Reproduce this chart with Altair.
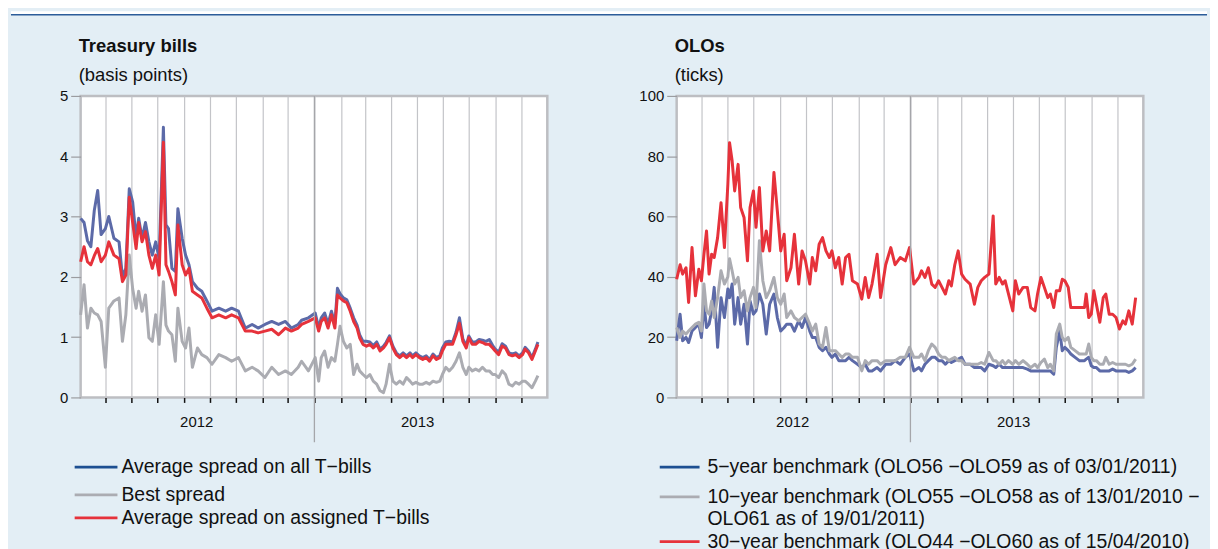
import altair as alt
import pandas as pd

FONT = "Liberation Sans"
BG = "#e3eef5"
BLUE = "#5c6aa8"
BLUE_KEY = "#1d4f91"
GREY = "#abacb2"
RED = "#e6323b"
TEXT = "#111111"

# ---------------- time axis ----------------
START = pd.Timestamp("2012-04-02")
DOMAIN = [alt.DateTime(year=2012, month=4, date=2), alt.DateTime(year=2013, month=10, date=1)]
MONTH_STARTS = [(2012, m) for m in range(5, 13)] + [(2013, m) for m in range(1, 10)]
YEAR_DIVIDER = "2013-01-01"
YEAR_LABELS = ["2012", "2013"]
YEAR_LABEL_DATES = ["2012-08-16", "2013-05-02"]

# ---------------- Treasury bills (basis points) ----------------
tb_days = [0, 4, 8, 12, 16, 20, 24, 29, 33, 39, 45, 49, 53, 57, 61, 65, 68, 72, 76, 80,
           84, 88, 92, 97, 100, 103, 107, 111, 114, 119, 123, 127, 131, 137, 142, 148, 154, 162, 170, 177,
           185, 193, 201, 208, 216, 224, 232, 240, 247, 255, 259, 267, 275, 279, 282, 286, 290, 294, 298, 301,
           304, 308, 312, 316, 320, 324, 327, 331, 335, 339, 343, 347, 351, 355, 358, 362, 366, 370, 374, 378,
           382, 386, 389, 393, 397, 401, 405, 409, 413, 417, 421, 424, 428, 432, 436, 440, 444, 448, 452, 455,
           459, 463, 467, 471, 475, 479, 483, 486, 490, 494, 498, 502, 506, 510, 514, 518, 521, 525, 529, 533,
           536]
tb_all = [2.97, 2.90, 2.60, 2.50, 3.10, 3.43, 2.70, 2.80, 3.00, 2.64, 2.58, 2.00, 2.14, 3.46, 3.24, 2.64, 2.97, 2.64, 2.90, 2.58,
          2.36, 2.58, 2.30, 4.48, 2.86, 2.80, 2.14, 2.09, 3.13, 2.64, 2.36, 2.20, 1.92, 1.81, 1.76, 1.60, 1.43, 1.48, 1.43, 1.48,
          1.43, 1.15, 1.21, 1.15, 1.21, 1.26, 1.21, 1.26, 1.15, 1.21, 1.28, 1.32, 1.40, 1.15, 1.32, 1.40, 1.22, 1.43, 1.22, 1.81,
          1.72, 1.65, 1.62, 1.48, 1.32, 1.20, 1.04, 0.93, 0.93, 0.92, 0.86, 0.92, 0.80, 0.85, 0.91, 1.02, 0.85, 0.74, 0.69, 0.74,
          0.69, 0.74, 0.69, 0.74, 0.69, 0.66, 0.69, 0.63, 0.72, 0.66, 0.69, 0.82, 0.92, 0.93, 0.92, 1.08, 1.32, 0.97, 0.86, 1.02,
          0.92, 0.92, 0.96, 0.95, 0.93, 0.96, 0.86, 0.80, 0.75, 0.89, 0.85, 0.74, 0.72, 0.74, 0.69, 0.74, 0.83, 0.77, 0.66, 0.80,
          0.92]
tb_best = [1.37, 1.87, 1.15, 1.48, 1.40, 1.37, 1.26, 0.50, 1.48, 1.60, 1.65, 0.93, 1.37, 2.36, 1.80, 1.48, 1.76, 1.43, 1.70, 0.99,
           0.93, 1.37, 0.88, 1.92, 1.20, 1.10, 1.04, 0.60, 1.48, 0.93, 0.82, 1.15, 0.50, 0.82, 0.71, 0.66, 0.55, 0.71, 0.66, 0.60,
           0.66, 0.44, 0.50, 0.44, 0.33, 0.50, 0.38, 0.44, 0.38, 0.50, 0.60, 0.44, 0.66, 0.27, 0.66, 0.77, 0.50, 0.66, 0.60, 0.88,
           1.18, 0.93, 0.82, 0.88, 0.38, 0.55, 0.44, 0.38, 0.33, 0.38, 0.27, 0.22, 0.11, 0.08, 0.22, 0.55, 0.27, 0.22, 0.27, 0.22,
           0.33, 0.27, 0.22, 0.25, 0.22, 0.22, 0.25, 0.22, 0.27, 0.25, 0.27, 0.38, 0.50, 0.44, 0.50, 0.60, 0.74, 0.50, 0.38, 0.50,
           0.44, 0.47, 0.44, 0.50, 0.44, 0.44, 0.38, 0.38, 0.33, 0.44, 0.38, 0.22, 0.19, 0.25, 0.22, 0.27, 0.27, 0.22, 0.16, 0.27,
           0.36]
tb_assigned = [2.25, 2.50, 2.25, 2.20, 2.35, 2.47, 2.25, 2.36, 2.58, 2.36, 2.30, 1.92, 2.03, 3.32, 2.90, 2.47, 2.90, 2.58, 2.75, 2.36,
               2.14, 2.36, 2.03, 4.23, 2.20, 2.09, 1.92, 1.70, 2.86, 2.20, 2.03, 2.14, 1.76, 1.70, 1.65, 1.48, 1.32, 1.37, 1.32, 1.37,
               1.32, 1.10, 1.10, 1.07, 1.10, 1.13, 1.04, 1.15, 1.10, 1.15, 1.21, 1.26, 1.32, 1.10, 1.26, 1.32, 1.15, 1.37, 1.15, 1.70,
               1.65, 1.60, 1.57, 1.43, 1.26, 1.15, 0.99, 0.88, 0.85, 0.88, 0.82, 0.88, 0.77, 0.82, 0.88, 0.99, 0.82, 0.71, 0.66, 0.71,
               0.66, 0.71, 0.66, 0.71, 0.66, 0.63, 0.66, 0.60, 0.69, 0.63, 0.66, 0.77, 0.88, 0.88, 0.88, 1.04, 1.23, 0.93, 0.82, 0.99,
               0.88, 0.88, 0.93, 0.91, 0.88, 0.88, 0.82, 0.77, 0.71, 0.85, 0.82, 0.71, 0.69, 0.71, 0.66, 0.71, 0.80, 0.74, 0.63, 0.77,
               0.88]

# ---------------- OLOs (ticks) ----------------
olo_days = [0, 4, 7, 11, 14, 18, 22, 26, 29, 32, 35, 38, 41, 44, 48, 52, 56, 60, 62, 65,
            68, 72, 75, 79, 83, 86, 90, 93, 97, 101, 105, 109, 114, 118, 122, 126, 129, 134, 138, 143,
            147, 151, 156, 159, 163, 167, 171, 175, 179, 182, 186, 190, 194, 198, 202, 206, 212, 217, 221, 225,
            229, 235, 239, 245, 251, 256, 262, 268, 273, 278,
            284, 287, 291, 295, 299, 303, 307, 311, 315, 319, 322, 326, 330, 334, 338, 344, 349, 353, 357, 361,
            366, 371, 374, 378, 382, 385, 389, 394, 397, 401, 406, 411, 415, 420, 423, 427, 431, 435, 438, 442,
            445, 449, 452, 455, 459, 462, 467, 472, 478, 480, 483, 486, 489, 492, 496, 500, 503, 507, 511, 515,
            519, 523, 526, 530, 534, 538]
olo_5y = [18.8, 27.6, 18.8, 19.9, 18.2, 22.0, 23.2, 24.3, 19.9, 30.9, 23.2, 24.3, 28.7, 36.5, 16.6, 33.1, 26.5, 36.0, 33.1, 37.6,
          24.3, 33.1, 24.3, 30.9, 17.7, 32.0, 27.6, 28.7, 34.3, 30.9, 21.0, 30.9, 34.3, 26.5, 22.0, 23.2, 24.3, 24.3, 22.0, 25.4,
          23.2, 26.5, 22.0, 19.9, 19.9, 16.6, 15.5, 16.6, 14.4, 13.3, 14.4, 12.2, 12.2, 12.2, 13.3, 12.2, 11.0, 9.9, 11.0, 8.8,
          8.8, 9.9, 8.8, 11.0, 11.0, 12.2, 11.0, 13.3, 14.4, 8.8,
          9.9, 8.8, 11.0, 12.2, 13.3, 13.3, 12.2, 12.2, 11.0, 12.2, 11.6, 12.2, 12.7, 13.3, 11.0, 11.0, 9.9, 9.9, 9.9, 8.8,
          11.0, 10.5, 9.9, 11.0, 9.9, 9.9, 9.9, 9.9, 9.9, 9.9, 9.9, 9.4, 8.8, 8.8, 8.8, 8.8, 8.8, 8.8, 8.8, 7.7,
          16.6, 22.0, 15.5, 16.6, 15.5, 14.4, 13.3, 12.2, 12.2, 12.7, 13.3, 10.5, 9.9, 9.9, 8.8, 8.8, 8.8, 8.8, 9.4, 8.8,
          8.8, 8.8, 8.8, 8.3, 8.8, 9.9]
olo_10y = [23.2, 19.9, 22.0, 21.0, 22.0, 23.2, 24.3, 24.9, 22.0, 37.6, 28.7, 27.6, 32.0, 26.5, 33.1, 42.0, 37.6, 40.0, 46.0, 42.0,
           37.6, 39.8, 33.1, 35.4, 28.7, 33.1, 36.5, 29.8, 52.0, 38.7, 33.1, 35.4, 39.8, 33.1, 30.9, 34.3, 26.5, 28.7, 26.5, 25.4,
           26.5, 27.6, 24.3, 22.0, 24.3, 17.7, 16.6, 23.2, 15.5, 15.5, 15.5, 14.4, 13.3, 14.4, 14.4, 13.3, 13.3, 8.8, 12.2, 11.0,
           12.2, 12.2, 11.0, 12.2, 12.2, 12.2, 13.3, 13.3, 16.6, 13.3,
           13.3, 14.4, 12.2, 15.5, 17.7, 16.6, 14.4, 13.3, 13.3, 12.2, 12.7, 13.3, 12.2, 12.2, 11.0, 11.0, 11.0, 11.0, 11.6, 11.0,
           14.9, 12.2, 12.2, 11.0, 12.2, 11.0, 12.2, 11.0, 12.2, 11.0, 12.2, 11.0, 9.9, 11.0, 9.9, 11.6, 12.7, 9.9, 11.0, 8.8,
           21.0, 24.3, 19.9, 18.8, 19.9, 16.6, 15.5, 14.4, 14.4, 14.4, 17.7, 13.3, 12.2, 12.2, 11.0, 11.0, 13.3, 11.0, 11.6, 11.0,
           11.0, 11.0, 11.0, 10.5, 11.0, 12.7]
olo_30y = [39.2, 44.0, 40.9, 43.0, 31.5, 49.7, 33.7, 42.5, 38.7, 47.5, 55.2, 40.9, 47.5, 46.4, 53.0, 64.6, 49.7, 70.7, 84.5, 78.5,
           68.5, 77.3, 63.0, 59.7, 45.3, 63.0, 68.5, 56.4, 69.6, 48.6, 55.2, 48.6, 74.6, 61.9, 48.6, 54.1, 38.7, 43.0, 54.1, 37.6,
           48.6, 45.3, 37.6, 46.4, 42.0, 50.8, 53.0, 48.6, 46.4, 48.6, 43.0, 46.4, 37.6, 46.4, 47.5, 38.7, 37.6, 32.6, 39.8, 33.1,
           37.6, 47.5, 33.1, 44.0, 49.7, 44.0, 46.4, 45.3, 49.7, 37.6,
           39.8, 42.0, 39.8, 43.0, 37.6, 36.5, 38.7, 36.5, 34.3, 38.7, 37.0, 44.0, 48.6, 40.9, 39.2, 37.6, 30.9, 36.5, 38.7, 39.8,
           40.9, 60.2, 37.6, 39.8, 37.6, 38.7, 34.3, 28.7, 38.7, 34.3, 36.5, 36.5, 29.8, 28.7, 34.3, 39.8, 36.5, 33.1, 34.3, 29.8,
           35.4, 35.4, 39.2, 38.7, 36.5, 29.8, 29.8, 29.8, 29.8, 34.3, 26.5, 27.6, 35.4, 30.9, 24.9, 33.1, 34.3, 27.6, 27.6, 26.5,
           22.7, 25.4, 24.3, 28.7, 24.3, 33.1]

TB_LEGEND = ["Average spread on all T\u2212bills", "Best spread", "Average spread on assigned T\u2212bills"]
OLO_LEGEND = ["5\u2212year benchmark (OLO56 \u2212OLO59 as of 03/01/2011)",
              "10\u2212year benchmark (OLO55 \u2212OLO58 as of 13/01/2010 \u2212",
              "OLO61 as of 19/01/2011)",
              "30\u2212year benchmark (OLO44 \u2212OLO60 as of 15/04/2010)"]

W, H = 469, 303
ONE = pd.DataFrame({"k": [0]})
LEGEND_SIZE = 19.5
TITLE_SIZE = 18.5


def to_dates(days):
    return [START + pd.Timedelta(days=int(d)) for d in days]


X_AXIS = alt.Axis(values=[alt.DateTime(year=y, month=m, date=1) for y, m in MONTH_STARTS],
                  labels=False, title=None, grid=True, gridColor="#c3c4c8", gridWidth=1.2,
                  ticks=True, tickColor=TEXT, tickSize=5, tickWidth=1.5, domain=False)


def x_enc():
    return alt.X("date:T", scale=alt.Scale(domain=DOMAIN), axis=X_AXIS)


def y_enc(y_max, y_values):
    return alt.Y("value:Q", scale=alt.Scale(domain=[0, y_max], nice=False),
                 axis=alt.Axis(values=y_values, title=None, grid=False, domain=False,
                               tickColor="#9b9ca0", tickSize=10, tickWidth=1.2, labelPadding=3,
                               labelFontSize=15, labelFont=FONT, labelColor=TEXT))


def text_layer(s, x, y, size=LEGEND_SIZE, weight="normal", align="left"):
    return alt.Chart(ONE).mark_text(align=align, baseline="middle", font=FONT, fontSize=size,
                                    fontWeight=weight, color=TEXT).encode(
        x=alt.value(x), y=alt.value(y), text=alt.value(s))


def key_layer(color, x1, x2, y):
    return alt.Chart(ONE).mark_rule(color=color, strokeWidth=2.8).encode(
        x=alt.value(x1), x2=alt.value(x2), y=alt.value(y))


def panel(days, series, y_max, y_values, title, subtitle, legend_layers, extra=()):
    dates = to_dates(days)
    layers = list(extra)
    for vals, color in series:
        df = pd.DataFrame({"date": dates, "value": vals})
        layers.append(alt.Chart(df).mark_line(color=color, strokeWidth=3, strokeJoin="round").encode(
            x=x_enc(), y=y_enc(y_max, y_values)))
    div = pd.DataFrame({"date": [pd.Timestamp(YEAR_DIVIDER)]})
    layers.append(alt.Chart(div).mark_rule(color="#a5a6aa", strokeWidth=1.3).encode(
        x=x_enc(), y=alt.value(0), y2=alt.value(H + 45)))
    yl = pd.DataFrame({"date": pd.to_datetime(YEAR_LABEL_DATES), "label": YEAR_LABELS})
    layers.append(alt.Chart(yl).mark_text(font=FONT, fontSize=15, color=TEXT, baseline="middle").encode(
        x=x_enc(), y=alt.value(H + 25), text="label:N"))
    layers.append(text_layer(title, -2, -50, size=TITLE_SIZE, weight="bold"))
    layers.append(text_layer(subtitle, -2, -21, size=TITLE_SIZE))
    layers.extend(legend_layers)
    return alt.layer(*layers).properties(width=W, height=H)


top_band = [
    alt.Chart(ONE).mark_rect(color="white").encode(
        x=alt.value(-70), x2=alt.value(1132), y=alt.value(-85), y2=alt.value(-82)),
    alt.Chart(ONE).mark_rule(color="#2c5c99", strokeWidth=1.6).encode(
        x=alt.value(-70), x2=alt.value(1132), y=alt.value(-81.5)),
]

tb_legend = [
    key_layer(BLUE_KEY, -6, 37, 373), text_layer(TB_LEGEND[0], 41, 373),
    key_layer(GREY, -6, 37, 401), text_layer(TB_LEGEND[1], 41, 401),
    key_layer(RED, -6, 37, 424), text_layer(TB_LEGEND[2], 41, 424),
]
olo_legend = [
    key_layer(BLUE_KEY, -17, 23, 373), text_layer(OLO_LEGEND[0], 31, 373),
    key_layer(GREY, -17, 23, 403), text_layer(OLO_LEGEND[1], 31, 403),
    text_layer(OLO_LEGEND[2], 31, 425),
    key_layer(RED, -17, 23, 448), text_layer(OLO_LEGEND[3], 31, 448),
]

left = panel(tb_days, [(tb_all, BLUE), (tb_best, GREY), (tb_assigned, RED)],
             5, [0, 1, 2, 3, 4, 5], "Treasury bills", "(basis points)", tb_legend, extra=top_band)
right = panel(olo_days, [(olo_5y, BLUE), (olo_10y, GREY), (olo_30y, RED)],
              100, [0, 20, 40, 60, 80, 100], "OLOs", "(ticks)", olo_legend)

chart = alt.hconcat(left, right, spacing=130, bounds="flush", padding=0).configure(
    background=BG, font=FONT).configure_view(fill="white", stroke="#bdbec2", strokeWidth=2.5)

chart.save("out.html", embed_options={"renderer": "svg", "actions": False})
